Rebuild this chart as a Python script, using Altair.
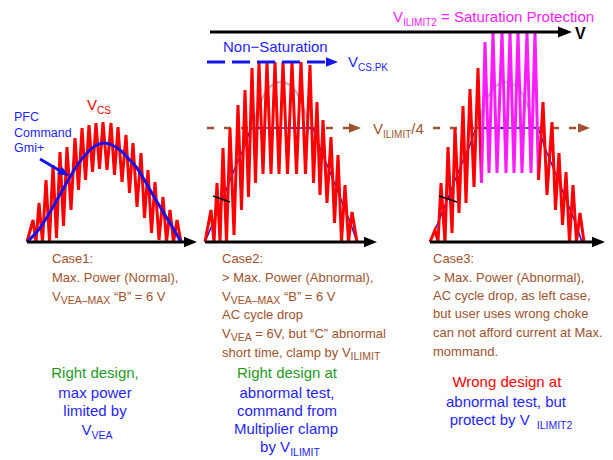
import math
import altair as alt
import pandas as pd

# ---------------- data (diagram units ~ pixels) ----------------
# Case 1: V_CS ripple, alternating valley / peak vertices
c1_x = [27, 33, 36, 39, 42.5, 46, 49.5, 53, 56.5, 60, 63.5, 67, 71, 75, 78.5, 82, 85.5, 89, 92.5, 96,
        99.5, 103, 107, 111, 114.5, 118, 122, 126, 129.5, 133, 137, 141, 144.5, 148, 151.5, 155, 159,
        163, 166.5, 170, 173.5, 177, 181]
c1_y = [242, 220, 242, 203, 242, 180, 241, 165, 238, 152, 226, 147, 210, 138, 190, 128, 180, 125, 172, 123,
        169, 122, 170, 123, 175, 127, 182, 135, 193, 143, 207, 153, 218, 170, 233, 182, 240, 197, 242,
        210, 242, 220, 242]
# Case 1: PFC command (Gmi+)
c1_cmd_x = [27, 40, 53, 62, 70, 78, 87, 95, 104, 112, 120, 128, 137, 145, 153, 162, 170, 181]
c1_cmd_y = [242, 228, 207, 191, 177, 164, 153, 146, 143, 145, 150, 158, 168, 181, 195, 210, 223, 242]

# Case 2: V_CS ripple
c2_x = [205, 211, 214, 217, 220, 223, 226.5, 230, 234, 238, 241.5, 245, 248.5, 252, 255.5, 259, 263, 267,
        271, 275, 279, 283, 287.5, 292, 296.5, 301, 305.5, 310, 313.5, 317, 320, 323, 327, 331, 334.5,
        338, 341.5, 345, 348.5, 352, 357]
c2_y = [242, 210, 242, 183, 242, 148, 242, 128, 235, 105, 210, 90, 197, 68, 183, 62, 174, 62,
        174, 62, 174, 62, 174, 62, 174, 62, 174, 65, 183, 102, 195, 120, 203, 137, 223,
        155, 242, 185, 242, 212, 242]
# Case 2: command clamped by V_ILIMIT/4, and the unclamped (grey) top
c2_cmd_x = [205, 215, 225, 235, 245, 252, 312, 320, 330, 340, 350, 357]
c2_cmd_y = [242, 218, 193, 168, 145, 128, 128, 148, 172, 197, 222, 242]
c2_arc_x = [253, 257, 263, 271, 281, 291, 299, 305, 309]
c2_arc_y = [128, 112, 97, 86, 82, 86, 97, 112, 128]

# Case 3: ripple, red sides and magenta (saturated) middle
c3_red1_x = [430, 435, 438, 441, 445, 448, 452, 455, 459, 463, 466, 470, 474, 478, 481.5]
c3_red1_y = [242, 230, 242, 183, 242, 147, 233, 128, 213, 106, 203, 89, 187, 68, 183]
c3_mag_x = [481.5, 485, 489, 493, 497, 502, 506, 510, 514, 518, 522, 527, 531, 535, 538.5]
c3_mag_y = [183, 42, 173, 32, 173, 32, 173, 32, 173, 32, 173, 32, 173, 32, 180]
c3_red2_x = [538.5, 543, 547, 552, 555.5, 559, 562.5, 566, 569.5, 573, 576.5, 580, 584]
c3_red2_y = [180, 102, 195, 122, 210, 153, 225, 172, 242, 185, 242, 213, 242]
c3_cmd_x = [430, 440, 450, 460, 470, 477, 537, 545, 555, 565, 575, 582]
c3_cmd_y = [242, 218, 193, 168, 145, 128, 128, 148, 172, 197, 222, 242]
c3_arc_x = [478, 482, 488, 496, 506, 516, 524, 530, 534]
c3_arc_y = [128, 112, 97, 86, 82, 86, 97, 112, 128]

# ---------------- styles ----------------
RED = "#ff0000"
MAG = "#ff1cff"
BLUE = "#1414e6"
TBLUE = "#1f1fff"
BROWN = "#a0522d"
GREEN = "#1f9a1f"
GREY = "#b9b9c9"
FONT = "Liberation Sans"

X0, X1, Y0, Y1 = 8, 605, 8, 460
xs = alt.Scale(domain=[X0, X1], zero=False, nice=False)
ys = alt.Scale(domain=[Y0, Y1], zero=False, nice=False, reverse=True)
X = lambda f: alt.X(f, type="quantitative", scale=xs, axis=None)
Y = lambda f: alt.Y(f, type="quantitative", scale=ys, axis=None)


def series(xv, yv, seg, color, width=3):
    return [dict(x=a, y=b, seg=seg, ord=i, color=color, w=width) for i, (a, b) in enumerate(zip(xv, yv))]


zig = pd.DataFrame(series(c1_x, c1_y, "z1", RED) + series(c2_x, c2_y, "z2", RED)
                   + series(c3_red1_x, c3_red1_y, "z3a", RED) + series(c3_mag_x, c3_mag_y, "z3m", MAG)
                   + series(c3_red2_x, c3_red2_y, "z3b", RED))
cmd_thick = pd.DataFrame(series(c1_cmd_x, c1_cmd_y, "b1", BLUE, 3))
cmd_thin = pd.DataFrame(series(c2_cmd_x, c2_cmd_y, "b2", BLUE, 1.5) + series(c3_cmd_x, c3_cmd_y, "b3", BLUE, 1.5))
arcs = pd.DataFrame(series(c2_arc_x, c2_arc_y, "g2", GREY, 2.5) + series(c3_arc_x, c3_arc_y, "g3", GREY, 2.5))

line_enc = dict(x=X("x"), y=Y("y"), detail="seg:N", order="ord:Q",
                color=alt.Color("color:N", scale=None),
                strokeWidth=alt.StrokeWidth("w:Q", scale=None))

arc_layer = alt.Chart(arcs).mark_line(interpolate="monotone").encode(**line_enc)
thin_layer = alt.Chart(cmd_thin).mark_line(interpolate="monotone").encode(**line_enc)
zig_layer = alt.Chart(zig).mark_line(strokeJoin="miter", strokeMiterLimit=4).encode(**line_enc)
thick_layer = alt.Chart(cmd_thick).mark_line(interpolate="monotone").encode(**line_enc)

# straight segments (axes, arrow shafts)
segs = pd.DataFrame([
    dict(x=210, y=32, x2=562, y2=32, color="black", w=3),
    dict(x=27, y=242, x2=188, y2=242, color="black", w=3),
    dict(x=205, y=242, x2=367, y2=242, color="black", w=3),
    dict(x=430, y=242, x2=595, y2=242, color="black", w=3),
    dict(x=40, y=159, x2=62, y2=172, color=BLUE, w=3),
    dict(x=213, y=196, x2=230, y2=202, color="black", w=1.8),
    dict(x=439, y=196, x2=457, y2=202, color="black", w=1.8),
])
seg_layer = alt.Chart(segs).mark_rule(strokeCap="butt").encode(
    x=X("x"), y=Y("y"), x2="x2:Q", y2="y2:Q",
    color=alt.Color("color:N", scale=None), strokeWidth=alt.StrokeWidth("w:Q", scale=None))

blue_dash = alt.Chart(pd.DataFrame([dict(x=207, y=62, x2=328, y2=62)])).mark_rule(
    color=BLUE, strokeWidth=3, strokeDash=[18, 7], strokeCap="butt").encode(
    x=X("x"), y=Y("y"), x2="x2:Q", y2="y2:Q")
brown_dash = alt.Chart(pd.DataFrame([dict(x=207, y=128, x2=350, y2=128),
                                     dict(x=433, y=128, x2=579, y2=128)])).mark_rule(
    color=BROWN, strokeWidth=2.5, strokeDash=[7, 10], strokeCap="butt").encode(
    x=X("x"), y=Y("y"), x2="x2:Q", y2="y2:Q")

# arrow heads: (tip x, tip y, length, angle, colour)
heads_spec = [
    (572, 32, 14, 0, "black"), (197, 242, 13, 0, "black"), (377, 242, 13, 0, "black"),
    (605, 242, 13, 0, "black"), (338, 62, 12, 0, BLUE), (361, 128, 12, 0, BROWN),
    (590, 128, 12, 0, BROWN), (69, 176, 11, 31, BLUE),
]
heads = []
for tx, ty, L, ang, col in heads_spec:
    r = math.radians(ang)
    heads.append(dict(x=tx - L / 2 * math.cos(r), y=ty - L / 2 * math.sin(r), size=L * L, angle=ang, color=col))
head_layer = alt.Chart(pd.DataFrame(heads)).mark_point(
    shape="M-1,-0.8L1,0L-1,0.8Z", filled=True, opacity=1, strokeWidth=0).encode(
    x=X("x"), y=Y("y"), size=alt.Size("size:Q", scale=None),
    angle=alt.Angle("angle:Q", scale=None), color=alt.Color("color:N", scale=None))

# ---------------- text ----------------
AW = {' ': 278, '!': 278, '"': 355, '(': 333, ')': 333, ',': 278, '-': 333, '.': 278, '/': 278,
      ':': 278, '=': 584, '>': 584, '+': 584, '“': 333, '”': 333, '–': 556, '−': 584,
      'A': 667, 'B': 667, 'C': 722, 'D': 722, 'E': 667, 'F': 611, 'G': 778, 'H': 722, 'I': 278,
      'J': 500, 'K': 667, 'L': 556, 'M': 833, 'N': 722, 'O': 778, 'P': 667, 'Q': 778, 'R': 722,
      'S': 667, 'T': 611, 'U': 722, 'V': 667, 'W': 944, 'X': 667, 'Y': 667, 'Z': 611,
      'a': 556, 'b': 556, 'c': 500, 'd': 556, 'e': 556, 'f': 278, 'g': 556, 'h': 556, 'i': 222,
      'j': 222, 'k': 500, 'l': 222, 'm': 833, 'n': 556, 'o': 556, 'p': 556, 'q': 556, 'r': 333,
      's': 500, 't': 278, 'u': 556, 'v': 500, 'w': 722, 'x': 500, 'y': 500, 'z': 500}


def tw(s, size):
    return sum(AW.get(ch, 556) for ch in s) * size / 1000.0


texts = []


def line(x, yc, runs, color, size=13, sub=10.5, align="left", bold=False):
    if isinstance(runs, str):
        runs = [(runs, 0)]
    widths = [tw(t, sub if s else size) for t, s in runs]
    x0 = x - sum(widths) / 2 if align == "center" else x
    base = yc + 0.36 * size
    for (t, s), w in zip(runs, widths):
        fs = sub if s else size
        lead = len(t) - len(t.lstrip())
        texts.append(dict(x=x0 + tw(t[:lead], fs), y=base + (0.25 * size if s else 0), text=t.lstrip(),
                          size=fs, color=color, bold=bold))
        x0 += w


# labels on the drawing
line(393, 17, [("V", 0), ("ILIMIT2", 1), (" = Saturation Protection", 0)], MAG, 15, 10)
line(223, 47, "Non−Saturation", TBLUE, 15)
line(348, 62, [("V", 0), ("CS.PK", 1)], TBLUE, 15, 10)
line(575, 33, "V", "black", 16, bold=True)
line(373, 129, [("V", 0), ("ILIMIT", 1), ("/4", 0)], BROWN, 15, 10)
line(87, 105, [("V", 0), ("CS", 1)], RED, 15, 10)
line(14, 116, "PFC", TBLUE, 12.5)
line(14, 132, "Command", TBLUE, 12.5)
line(14, 147, "Gmi+", TBLUE, 12.5)

# case descriptions
line(52, 258, "Case1:", BROWN)
line(52, 277, "Max. Power (Normal),", BROWN)
line(52, 296, [("V", 0), ("VEA–MAX", 1), (" “B” = 6 V", 0)], BROWN)

line(222, 258, "Case2:", BROWN)
line(222, 277, "> Max. Power (Abnormal),", BROWN)
line(222, 296, [("V", 0), ("VEA–MAX", 1), (" “B” = 6 V", 0)], BROWN)
line(222, 314, "AC cycle drop", BROWN)
line(222, 333, [("V", 0), ("VEA", 1), (" = 6V, but “C” abnormal", 0)], BROWN)
line(222, 352, [("short time, clamp by V", 0), ("ILIMIT", 1)], BROWN)

line(433, 258, "Case3:", BROWN)
line(433, 277, "> Max. Power (Abnormal),", BROWN)
line(433, 295, "AC cycle drop, as left case,", BROWN)
line(433, 313, "but user uses wrong choke", BROWN)
line(433, 332, "can not afford current at Max.", BROWN)
line(433, 351, "mommand.", BROWN)

# conclusions
line(95, 373, "Right design,", GREEN, 15, align="center")
line(95, 393, "max power", TBLUE, 15, align="center")
line(95, 411, "limited by", TBLUE, 15, align="center")
line(97, 430, [("V", 0), ("VEA", 1)], TBLUE, 15, 10.5, align="center")

line(287, 373, "Right design at", GREEN, 15, align="center")
line(287, 393, "abnormal test,", TBLUE, 15, align="center")
line(287, 411, "command from", TBLUE, 15, align="center")
line(286, 429, "Multiplier clamp", TBLUE, 15, align="center")
line(290, 447, [("by V", 0), ("ILIMIT", 1)], TBLUE, 15, 10.5, align="center")

line(507, 382, "Wrong design at", RED, 15, align="center")
line(506, 402, "abnormal test, but", TBLUE, 15, align="center")
line(511, 420, [("protect by V ", 0), (" ILIMIT2", 1)], TBLUE, 15, 10.5, align="center")

tdf = pd.DataFrame(texts)
text_enc = dict(x=X("x"), y=Y("y"), text="text:N", size=alt.Size("size:Q", scale=None),
                color=alt.Color("color:N", scale=None))
text_layer = alt.Chart(tdf[~tdf.bold]).mark_text(
    align="left", baseline="alphabetic", font=FONT).encode(**text_enc)
bold_layer = alt.Chart(tdf[tdf.bold]).mark_text(
    align="left", baseline="alphabetic", font=FONT, fontWeight="bold").encode(**text_enc)

chart = alt.layer(
    brown_dash, arc_layer, thin_layer, zig_layer, thick_layer, blue_dash, seg_layer, head_layer,
    text_layer, bold_layer
).properties(
    width=X1 - X0, height=Y1 - Y0, padding=0, autosize=alt.AutoSizeParams(type="none"),
    background="white"
).configure_view(stroke=None)

chart.save("out.html", embed_options={"renderer": "svg", "actions": False})
